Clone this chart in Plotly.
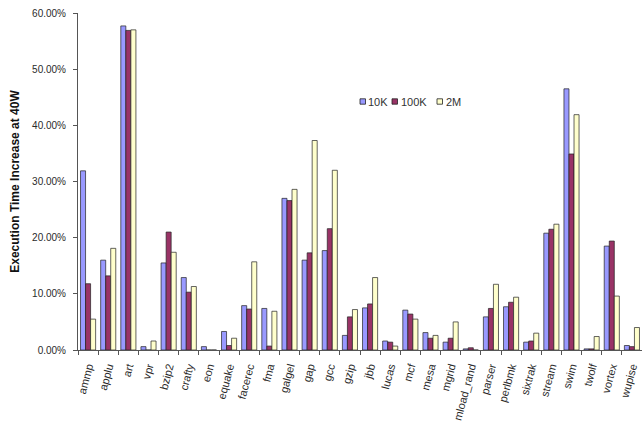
import plotly.graph_objects as go

categories = ["ammp", "applu", "art", "vpr", "bzip2", "crafty", "eon", "equake", "facerec",
              "fma", "galgel", "gap", "gcc", "gzip", "jbb", "lucas", "mcf", "mesa", "mgrid",
              "mload_rand", "parser", "perlbmk", "sixtrak", "stream", "swim", "twolf",
              "vortex", "wupise"]

s10k = [31.9, 16.0, 57.7, 0.6, 15.5, 12.9, 0.6, 3.3, 7.9,
        7.4, 27.0, 16.0, 17.7, 2.6, 7.5, 1.6, 7.1, 3.1, 1.4,
        0.2, 5.9, 7.7, 1.4, 20.8, 46.5, 0.2, 18.5, 0.8]
s100k = [11.8, 13.2, 56.9, 0.0, 21.0, 10.3, 0.0, 0.8, 7.3,
         0.7, 26.6, 17.3, 21.6, 5.9, 8.2, 1.4, 6.4, 2.1, 2.1,
         0.4, 7.4, 8.5, 1.6, 21.5, 34.9, 0.2, 19.4, 0.6]
s2m = [5.5, 18.1, 57.0, 1.6, 17.4, 11.3, 0.0, 2.1, 15.7,
       6.9, 28.6, 37.3, 32.0, 7.2, 12.9, 0.7, 5.5, 2.6, 5.0,
       0.0, 11.7, 9.4, 3.0, 22.4, 41.9, 2.4, 9.6, 4.0]

series_names = ["10K", "100K", "2M"]
series_colors = ["#9999ff", "#993366", "#ffffcc"]
series_values = [s10k, s100k, s2m]

W, H = 642, 427
ML, MR, MT, MB = 78, 0, 13, 77

fig = go.Figure()
for name, vals, col in zip(series_names, series_values, series_colors):
    fig.add_trace(go.Bar(
        x=categories, y=[v / 100 for v in vals], name=name,
        marker=dict(color=col, line=dict(color="#222222", width=0.7)),
    ))

# compact Excel-style legend (drawn as shapes + text)
def px_to_paper(px, py):
    return (px - ML) / (W - ML - MR), (H - MB - py) / (H - MT - MB)

legend_x = [360, 392, 437]
legend_y = 101.5
shapes, annotations = [], []
for name, col, lx in zip(series_names, series_colors, legend_x):
    x0, y0 = px_to_paper(lx, legend_y + 2.7)
    x1, y1 = px_to_paper(lx + 5.5, legend_y - 2.7)
    shapes.append(dict(type="rect", xref="paper", yref="paper", x0=x0, x1=x1, y0=y0, y1=y1,
                       fillcolor=col, line=dict(color="#222222", width=0.8)))
    tx, ty = px_to_paper(lx + 6.5, legend_y)
    annotations.append(dict(xref="paper", yref="paper", x=tx, y=ty, text=name, showarrow=False,
                            xanchor="left", yanchor="middle",
                            font=dict(size=11, color="#333333")))

fig.update_layout(
    width=W, height=H,
    margin=dict(l=ML, r=MR, t=MT, b=MB),
    paper_bgcolor="white", plot_bgcolor="white",
    barmode="group", bargap=0.25, bargroupgap=0,
    font=dict(family="Liberation Sans, Arial, sans-serif", color="#222222"),
    showlegend=False,
    shapes=shapes, annotations=annotations,
)
fig.update_xaxes(
    type="category", showgrid=False, showline=True, linecolor="#555555", linewidth=1,
    ticks="outside", tickson="boundaries", ticklen=4, tickcolor="#555555",
    tickangle=-75, ticklabelstandoff=5, tickfont=dict(size=11, color="#2a2a2a"),
)
fig.update_yaxes(
    range=[0, 0.6], dtick=0.1, tickformat=".2%", showgrid=False,
    showline=True, linecolor="#555555", linewidth=1, ticks="outside", ticklen=4,
    ticklabelstandoff=5,
    tickcolor="#555555", tickfont=dict(size=10, color="#2a2a2a"),
    title=dict(text="<b>Execution Time Increase at 40W</b>", font=dict(size=12, color="#111111"),
               standoff=9),
    zeroline=False,
)

fig.write_html("out.html")
